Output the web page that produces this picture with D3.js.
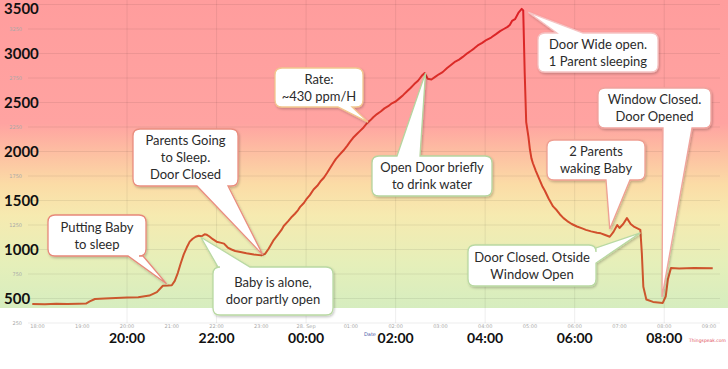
<!DOCTYPE html>
<html>
<head>
<meta charset="utf-8">
<script src="https://cdn.jsdelivr.net/npm/d3@7"></script>
<style>
  html, body { margin: 0; padding: 0; background: #fff; }
  svg { display: block; }
  .note text { font-family: Lato, "Open Sans", sans-serif; font-size: 13px; fill: #2b2b2b; }
  .big { font-family: Lato, "Open Sans", sans-serif; font-weight: bold; fill: #111; }
  .tick-small { font-family: "DejaVu Sans", sans-serif; font-size: 5px; fill: #a8a8a8; }
</style>
</head>
<body>
<svg id="chart" width="728" height="369"></svg>
<script>
// CO2 readings (ppm)
var times = ["17:53","18:10","18:25","18:40","18:55","19:05","19:10","19:17","19:30","19:45",
  "20:00","20:15","20:30","20:40","20:48","20:55","21:00","21:04","21:08","21:12",
  "21:16","21:20","21:24","21:28","21:32","21:36","21:40","21:44","21:47","21:50",
  "21:55","22:00","22:05","22:10","22:15","22:20","22:25","22:32","22:40","22:50",
  "23:00","23:05","23:10","23:16","23:22","23:27","23:30","23:36","23:41","23:45",
  "23:49","23:52","23:57","00:01","00:05","00:10","00:15","00:20","00:24","00:28",
  "00:33","00:37","00:40","00:45","00:50","00:55","00:59","01:03","01:08","01:12",
  "01:17","01:22","01:26","01:30","01:35","01:40","01:45","01:50","01:55","02:00",
  "02:05","02:10","02:15","02:20","02:25","02:30","02:35","02:39","02:43","02:48",
  "02:53","02:58","03:03","03:09","03:15","03:20","03:25","03:30","03:36","03:41",
  "03:45","03:50","03:56","04:02","04:08","04:15","04:20","04:25","04:30","04:33",
  "04:36","04:40","04:45","04:49","04:51","04:53","04:55","04:58","05:00","05:02",
  "05:04","05:08","05:13","05:17","05:20","05:25","05:31","05:36","05:40","05:45",
  "05:50","05:56","06:03","06:10","06:15","06:22","06:30","06:35","06:40","06:47",
  "06:52","06:57","07:00","07:05","07:10","07:15","07:20","07:28","07:30","07:32",
  "07:36","07:45","07:58","08:02","08:05","08:09","08:20","08:40","09:05"];
var ppm = [445,442,446,443,447,448,470,495,500,505,
  510,512,530,565,630,632,635,680,760,860,
  950,1020,1080,1110,1130,1140,1135,1155,1150,1135,
  1105,1080,1070,1060,1020,1000,985,975,962,950,
  940,955,1010,1090,1150,1200,1240,1290,1335,1365,
  1400,1435,1475,1520,1555,1612,1650,1702,1735,1780,
  1842,1890,1925,1968,2010,2058,2100,2140,2178,2208,
  2245,2292,2318,2350,2382,2408,2440,2462,2492,2510,
  2542,2575,2612,2648,2688,2722,2772,2800,2742,2735,
  2762,2788,2810,2852,2888,2918,2938,2965,3002,3028,
  3050,3082,3108,3140,3163,3200,3228,3250,3272,3290,
  3332,3350,3420,3455,3440,2800,2300,2150,2020,1930,
  1880,1800,1710,1640,1600,1520,1440,1400,1360,1320,
  1290,1260,1235,1215,1200,1185,1170,1165,1150,1130,
  1180,1250,1220,1260,1320,1260,1230,1200,960,620,
  490,465,455,520,700,810,805,812,808];

// axis ticks
var hourTicks = ["18:00","19:00","20:00","21:00","22:00","23:00","00:00","01:00",
  "02:00","03:00","04:00","05:00","06:00","07:00","08:00","09:00"];
var hourLabels = ["18:00","19:00","20:00","21:00","22:00","23:00","28. Sep","01:00",
  "02:00","03:00","04:00","05:00","06:00","07:00","08:00","09:00"];
var gridHours = ["20:00","22:00","00:00","02:00","04:00","06:00","08:00"];
var bigY = [500, 1000, 1500, 2000, 2500, 3000, 3500];
var smallY = [250, 750, 1250, 1750, 2250, 2750, 3250];
var gridY = d3.range(250, 3501, 250);

// annotations
var noteText = [
  ["Putting Baby", "to sleep"],
  ["Parents Going", "to Sleep.", "Door Closed"],
  ["Baby is alone,", "door partly open"],
  ["Rate:", "~430 ppm/H"],
  ["Open Door briefly", "to drink water"],
  ["Door Wide open.", "1 Parent sleeping"],
  ["Window Closed.", "Door Opened"],
  ["2 Parents", "waking Baby"],
  ["Door Closed. Otside", "Window Open"]
];
var noteTime = ["20:53","23:02","21:39","01:23","02:40","04:58","07:57","06:47","07:28"];
var noteValue = [650, 945, 1125, 2300, 2800, 3420, 515, 1210, 1170];

// callout layout: box [x, y, w, h], pointer side and base span, border colour
var noteBox = [[48,215,98,41],[133,129,105,57],[213,267,120,48],[275,68,88,39],
  [372,156,120,40],[538,33,120,39],[598,88,113,40],[547,140,98,40],[468,245,128,41]];
var notePointer = [["bottom",128,143],["bottom",197,228],["top",218,250],["bottom",338,352],
  ["top",397,420],["top",557,583],["bottom",663,692],["bottom",606,630],["right",248,263]];
var noteStroke = ["#e8887a","#ea8e80","#b9d9a3","#f2c78f","#b5d59f","#f6c4c4","#f0a49e","#ef9f92","#b9d9a3"];

var W = 728, H = 369;
var svg = d3.select("#chart");

function toDate(s) {
  var h = +s.slice(0, 2);
  return d3.timeParse("%d %H:%M")((h >= 12 ? "27 " : "28 ") + s);
}

var x = d3.scaleTime()
  .domain([toDate("18:00"), toDate("09:00")])
  .range([37.5, 709]);
var y = d3.scaleLinear()
  .domain([250, 3500])
  .range([323, 4.5]);

var defs = svg.append("defs");
var bg = defs.append("linearGradient").attr("id", "bg")
  .attr("x1", 0).attr("y1", 0).attr("x2", 0).attr("y2", 1);
[["0%","#ff9d9d"],["40%","#ffa3a1"],["50%","#fdc0a2"],["60%","#fbdca6"],
 ["70%","#f6eab0"],["85%","#e6efb9"],["100%","#d6edbf"]].forEach(function (s) {
  bg.append("stop").attr("offset", s[0]).attr("stop-color", s[1]);
});
var lg = defs.append("linearGradient").attr("id", "lineGrad")
  .attr("gradientUnits", "userSpaceOnUse")
  .attr("x1", 0).attr("y1", 0).attr("x2", 0).attr("y2", 310);
[["0%","#dd1e26"],["45%","#d83a2a"],["70%","#d24e2b"],["100%","#c95a2e"]].forEach(function (s) {
  lg.append("stop").attr("offset", s[0]).attr("stop-color", s[1]);
});
var sh = defs.append("filter").attr("id", "shadow")
  .attr("x", "-20%").attr("y", "-20%").attr("width", "140%").attr("height", "140%");
sh.append("feDropShadow").attr("dx", 1).attr("dy", 1.5)
  .attr("stdDeviation", 1.2).attr("flood-color", "#000").attr("flood-opacity", 0.22);

// coloured band behind the plot
svg.append("rect").attr("x", 0).attr("y", 0).attr("width", W).attr("height", 308)
  .attr("fill", "url(#bg)");

// grid
svg.append("g").selectAll("line").data(gridY).join("line")
  .attr("x1", 28).attr("x2", 720)
  .attr("y1", function (d) { return y(d); }).attr("y2", function (d) { return y(d); })
  .attr("stroke", "#000").attr("stroke-opacity", 0.07).attr("stroke-width", 1);
svg.append("g").selectAll("line").data(gridHours).join("line")
  .attr("x1", function (d) { return x(toDate(d)); }).attr("x2", function (d) { return x(toDate(d)); })
  .attr("y1", 0).attr("y2", 323)
  .attr("stroke", "#000").attr("stroke-opacity", 0.07).attr("stroke-width", 1);

// small original tick labels
svg.append("g").selectAll("text").data(smallY).join("text")
  .attr("class", "tick-small")
  .attr("x", 22).attr("y", function (d) { return y(d); })
  .attr("dy", "0.35em").attr("text-anchor", "end")
  .text(function (d) { return d; });
svg.append("g").selectAll("text").data(hourTicks).join("text")
  .attr("class", "tick-small")
  .attr("x", function (d) { return x(toDate(d)); }).attr("y", 328)
  .attr("text-anchor", "middle")
  .text(function (d, i) { return hourLabels[i]; });
svg.append("text").attr("class", "tick-small").attr("x", 364).attr("y", 336)
  .style("fill", "#4a5aa8").text("Date");
svg.append("text").attr("class", "tick-small").attr("x", 689).attr("y", 342)
  .style("fill", "#e0505a").style("font-size", "4.5px").text("Thingspeak.com");

// data line
var pts = times.map(function (t, i) { return [toDate(t), ppm[i]]; });
svg.append("path").datum(pts)
  .attr("fill", "none").attr("stroke", "url(#lineGrad)").attr("stroke-width", 2)
  .attr("stroke-linejoin", "round")
  .attr("d", d3.line().x(function (d) { return x(d[0]); }).y(function (d) { return y(d[1]); }));

// callouts
function calloutPath(b, p, tip) {
  var bx = b[0], by = b[1], w = b[2], h = b[3], r = 7;
  var side = p[0], a1 = p[1], a2 = p[2];
  var d = "M" + (bx + r) + "," + by;
  if (side === "top") d += "L" + a1 + "," + by + "L" + tip[0] + "," + tip[1] + "L" + a2 + "," + by;
  d += "L" + (bx + w - r) + "," + by + "Q" + (bx + w) + "," + by + " " + (bx + w) + "," + (by + r);
  if (side === "right") d += "L" + (bx + w) + "," + a1 + "L" + tip[0] + "," + tip[1] + "L" + (bx + w) + "," + a2;
  d += "L" + (bx + w) + "," + (by + h - r) + "Q" + (bx + w) + "," + (by + h) + " " + (bx + w - r) + "," + (by + h);
  if (side === "bottom") d += "L" + a2 + "," + (by + h) + "L" + tip[0] + "," + tip[1] + "L" + a1 + "," + (by + h);
  d += "L" + (bx + r) + "," + (by + h) + "Q" + bx + "," + (by + h) + " " + bx + "," + (by + h - r);
  if (side === "left") d += "L" + bx + "," + a2 + "L" + tip[0] + "," + tip[1] + "L" + bx + "," + a1;
  d += "L" + bx + "," + (by + r) + "Q" + bx + "," + by + " " + (bx + r) + "," + by + "Z";
  return d;
}

var notes = svg.append("g").selectAll("g").data(noteText).join("g").attr("class", "note");
notes.append("path")
  .attr("d", function (d, i) {
    var tip = [x(toDate(noteTime[i])), y(noteValue[i])];
    return calloutPath(noteBox[i], notePointer[i], tip);
  })
  .attr("fill", "#fff")
  .attr("stroke", function (d, i) { return noteStroke[i]; })
  .attr("stroke-width", 1.3)
  .attr("filter", "url(#shadow)");
notes.each(function (lines, i) {
  var b = noteBox[i];
  var lh = 17;
  var y0 = b[1] + b[3] / 2 - (lines.length - 1) * lh / 2;
  d3.select(this).selectAll("text").data(lines).join("text")
    .attr("x", b[0] + b[2] / 2)
    .attr("y", function (t, k) { return y0 + k * lh; })
    .attr("dy", "0.35em")
    .attr("text-anchor", "middle")
    .text(function (t) { return t; });
});

// big overlay labels
svg.append("g").selectAll("text").data(bigY).join("text")
  .attr("class", "big").style("font-size", "15px")
  .attr("x", 4).attr("y", function (d) { return Math.max(y(d), 8.5); })
  .attr("dy", "0.36em")
  .text(function (d) { return d; });
svg.append("g").selectAll("text").data(gridHours).join("text")
  .attr("class", "big").style("font-size", "14px")
  .attr("x", function (d) { return x(toDate(d)); }).attr("y", 338)
  .attr("dy", "0.36em").attr("text-anchor", "middle")
  .text(function (d) { return d; });
</script>
</body>
</html>
